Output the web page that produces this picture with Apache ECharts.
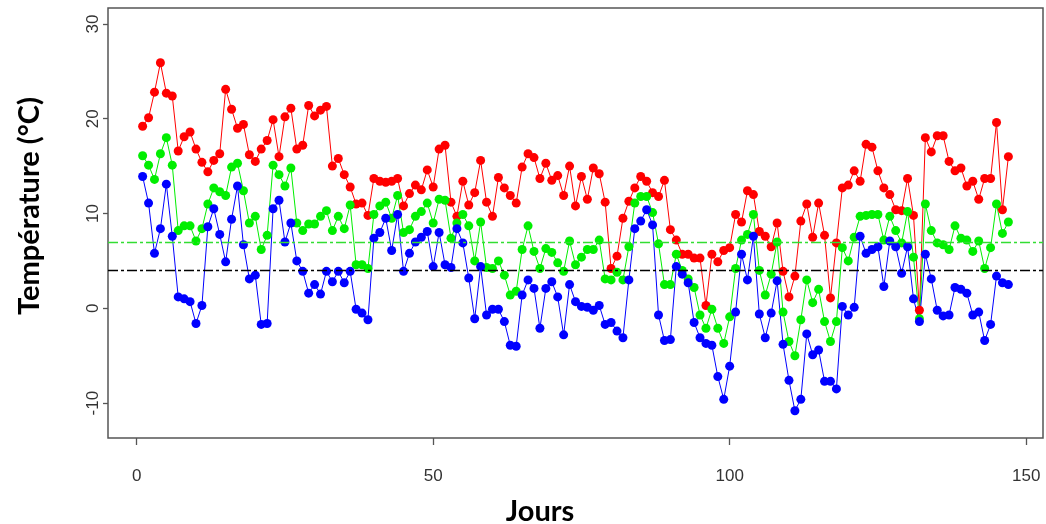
<!DOCTYPE html>
<html><head><meta charset="utf-8">
<script src="https://cdn.jsdelivr.net/npm/echarts@6/dist/echarts.min.js"></script>
<style>html,body{margin:0;padding:0;background:#fff}#c{width:1046px;height:524px}</style>
</head><body><div id="c"></div>
<script>
// Température maximale (rouge)
const tmax = [19.2,20.1,22.8,25.9,22.7,22.4,16.6,18.1,18.6,16.8,
  15.4,14.4,15.6,16.3,23.1,21.0,19.0,19.4,16.2,15.5,
  16.8,17.7,19.9,16.0,20.2,21.1,16.8,17.2,21.4,20.3,
  20.9,21.3,15.0,15.8,14.1,12.8,11.0,11.1,9.8,13.7,
  13.4,13.3,13.4,13.7,10.8,12.1,13.0,12.5,14.6,12.8,
  16.8,17.2,11.2,9.7,13.4,10.9,12.2,15.6,11.2,9.7,
  13.8,12.7,11.9,11.1,14.9,16.3,15.9,13.7,15.3,13.5,
  14.0,11.9,15.0,10.8,13.9,11.5,14.8,14.2,11.2,4.2,
  5.5,9.5,11.3,12.7,13.9,13.4,12.2,11.8,13.5,8.3,
  7.2,5.7,5.7,5.3,5.3,0.3,5.7,4.9,6.1,6.4,
  9.9,9.1,12.4,12.0,8.1,7.6,6.5,9.0,3.9,1.2,
  3.4,9.2,11.0,7.5,11.1,7.7,1.1,6.9,12.7,13.0,
  14.5,13.4,17.3,17.0,14.5,12.7,12.0,10.4,10.3,13.7,
  9.8,-0.2,18.0,16.5,18.2,18.2,15.5,14.5,14.8,12.9,
  13.4,11.5,13.7,13.7,19.6,10.4,16.0];
// Température moyenne (vert)
const tmoy = [16.1,15.1,13.6,16.3,18.0,15.1,8.2,8.7,8.7,7.1,
  8.4,11.0,12.7,12.3,11.9,14.9,15.3,12.4,9.0,9.7,
  6.2,7.7,15.1,14.1,12.9,14.8,9.0,8.2,8.9,8.9,
  9.7,10.3,8.2,9.7,8.4,10.9,4.6,4.6,4.2,9.9,
  10.8,11.2,9.5,11.9,8.0,8.3,9.7,10.2,11.1,9.0,
  11.5,11.4,7.4,9.0,9.9,8.7,5.0,9.1,4.3,4.2,
  5.0,3.5,1.4,1.8,6.2,8.7,6.0,4.2,6.3,5.9,
  4.8,3.9,7.1,4.6,5.4,6.2,6.2,7.2,3.1,3.0,
  3.8,3.0,6.5,11.1,11.8,11.8,10.1,6.8,2.5,2.5,
  5.7,4.0,3.1,2.2,-0.7,-2.1,-0.1,-2.1,-3.7,-0.9,
  4.2,7.2,7.8,9.9,4.0,1.4,3.6,7.0,-0.4,-3.5,
  -5.0,-1.2,3.0,0.6,2.0,-1.4,-3.5,-1.4,6.4,5.0,
  7.5,9.7,9.8,9.9,9.9,7.2,9.7,8.2,6.9,10.2,
  5.4,-1.1,11.0,8.2,6.9,6.7,6.2,8.7,7.4,7.2,
  6.0,7.1,4.2,6.4,11.0,7.9,9.1];
// Température minimale (bleu)
const tmin = [13.9,11.1,5.8,8.4,13.1,7.6,1.2,1.0,0.7,-1.6,
  0.3,8.6,10.5,7.8,4.9,9.4,12.9,6.7,3.1,3.5,
  -1.7,-1.6,10.5,11.4,7.0,9.0,5.0,3.9,1.6,2.5,
  1.5,3.9,2.8,3.9,2.7,3.9,-0.1,-0.5,-1.2,7.4,
  8.0,9.5,6.1,9.9,3.9,5.8,7.0,7.5,8.1,4.4,
  8.0,4.6,4.3,8.4,6.9,3.2,-1.1,4.4,-0.7,-0.1,
  -0.1,-1.4,-3.9,-4.0,1.4,3.0,2.1,-2.1,2.1,2.8,
  1.2,-2.8,2.5,0.7,0.2,0.1,-0.2,0.3,-1.7,-1.5,
  -2.4,-3.1,3.0,8.4,9.2,10.4,8.8,-0.7,-3.4,-3.3,
  4.4,3.6,2.7,-1.5,-3.1,-3.7,-3.9,-7.2,-9.6,-6.1,
  -0.4,5.7,3.0,7.6,-0.6,-3.1,-0.5,2.9,-3.8,-7.6,
  -10.8,-9.6,-2.7,-4.9,-4.4,-7.7,-7.7,-8.5,0.2,-0.7,
  0.1,7.6,5.8,6.2,6.5,2.3,7.1,6.5,3.7,6.5,
  1.0,-1.4,5.7,3.1,-0.2,-0.8,-0.7,2.2,2.0,1.6,
  -0.7,-0.4,-3.4,-1.7,3.4,2.7,2.5];
const xTicks = [0, 50, 100, 150];
const yTicks = [-10, 0, 10, 20, 30];
const refLines = [4, 7];
const xTitle = 'Jours';
const yTitle = 'Température (°C)';

function pts(arr){ return arr.map((v,i)=>[i+1, v]); }
function mk(name, arr, color){
  return {name:name, type:'line', data:pts(arr), symbol:'circle', symbolSize:9,
    itemStyle:{color:color}, lineStyle:{color:color, width:1}, silent:true};
}
const chart = echarts.init(document.getElementById('c'));
chart.setOption({
  animation:false,
  grid:{left:108, right:3, top:8, bottom:86, show:true, borderColor:'#555', borderWidth:1.5},
  xAxis:{type:'value', min:-4.84, max:152.84, splitLine:{show:false},
    axisLine:{show:false, onZero:false},
    axisTick:{show:true, length:7, customValues:xTicks, lineStyle:{color:'#555', width:1.3}},
    axisLabel:{customValues:xTicks, margin:30, fontSize:17, color:'#333', fontFamily:'Liberation Sans'}},
  yAxis:{type:'value', min:-13.68, max:31.68, splitLine:{show:false},
    axisLine:{show:false, onZero:false},
    axisTick:{show:true, length:5, customValues:yTicks, lineStyle:{color:'#555', width:1.3}},
    axisLabel:{customValues:yTicks, rotate:90, margin:6, fontSize:17, color:'#333', fontFamily:'Liberation Sans'}},
  graphic:[
    {type:'text', x:540, y:512, style:{text:xTitle, font:'bold 29px Lato', fill:'#000', align:'center', verticalAlign:'middle'}, silent:true},
    {type:'text', x:30, y:206, rotation:Math.PI/2, style:{text:yTitle, font:'bold 29px Lato', fill:'#000', align:'center', verticalAlign:'middle'}, silent:true}
  ],
  series:[
    {type:'line', data:[], silent:true,
      markLine:{silent:true, symbol:'none', label:{show:false},
        data:[{yAxis:refLines[0], lineStyle:{color:'#000', type:[10,3,3,3], width:1.3}},
              {yAxis:refLines[1], lineStyle:{color:'#33dd33', type:[10,3,3,3], width:1.3}}]}},
    mk('Tmax', tmax, '#ff0000'),
    mk('Tmoy', tmoy, '#00ee00'),
    mk('Tmin', tmin, '#0000ff')
  ]
});
</script></body></html>
